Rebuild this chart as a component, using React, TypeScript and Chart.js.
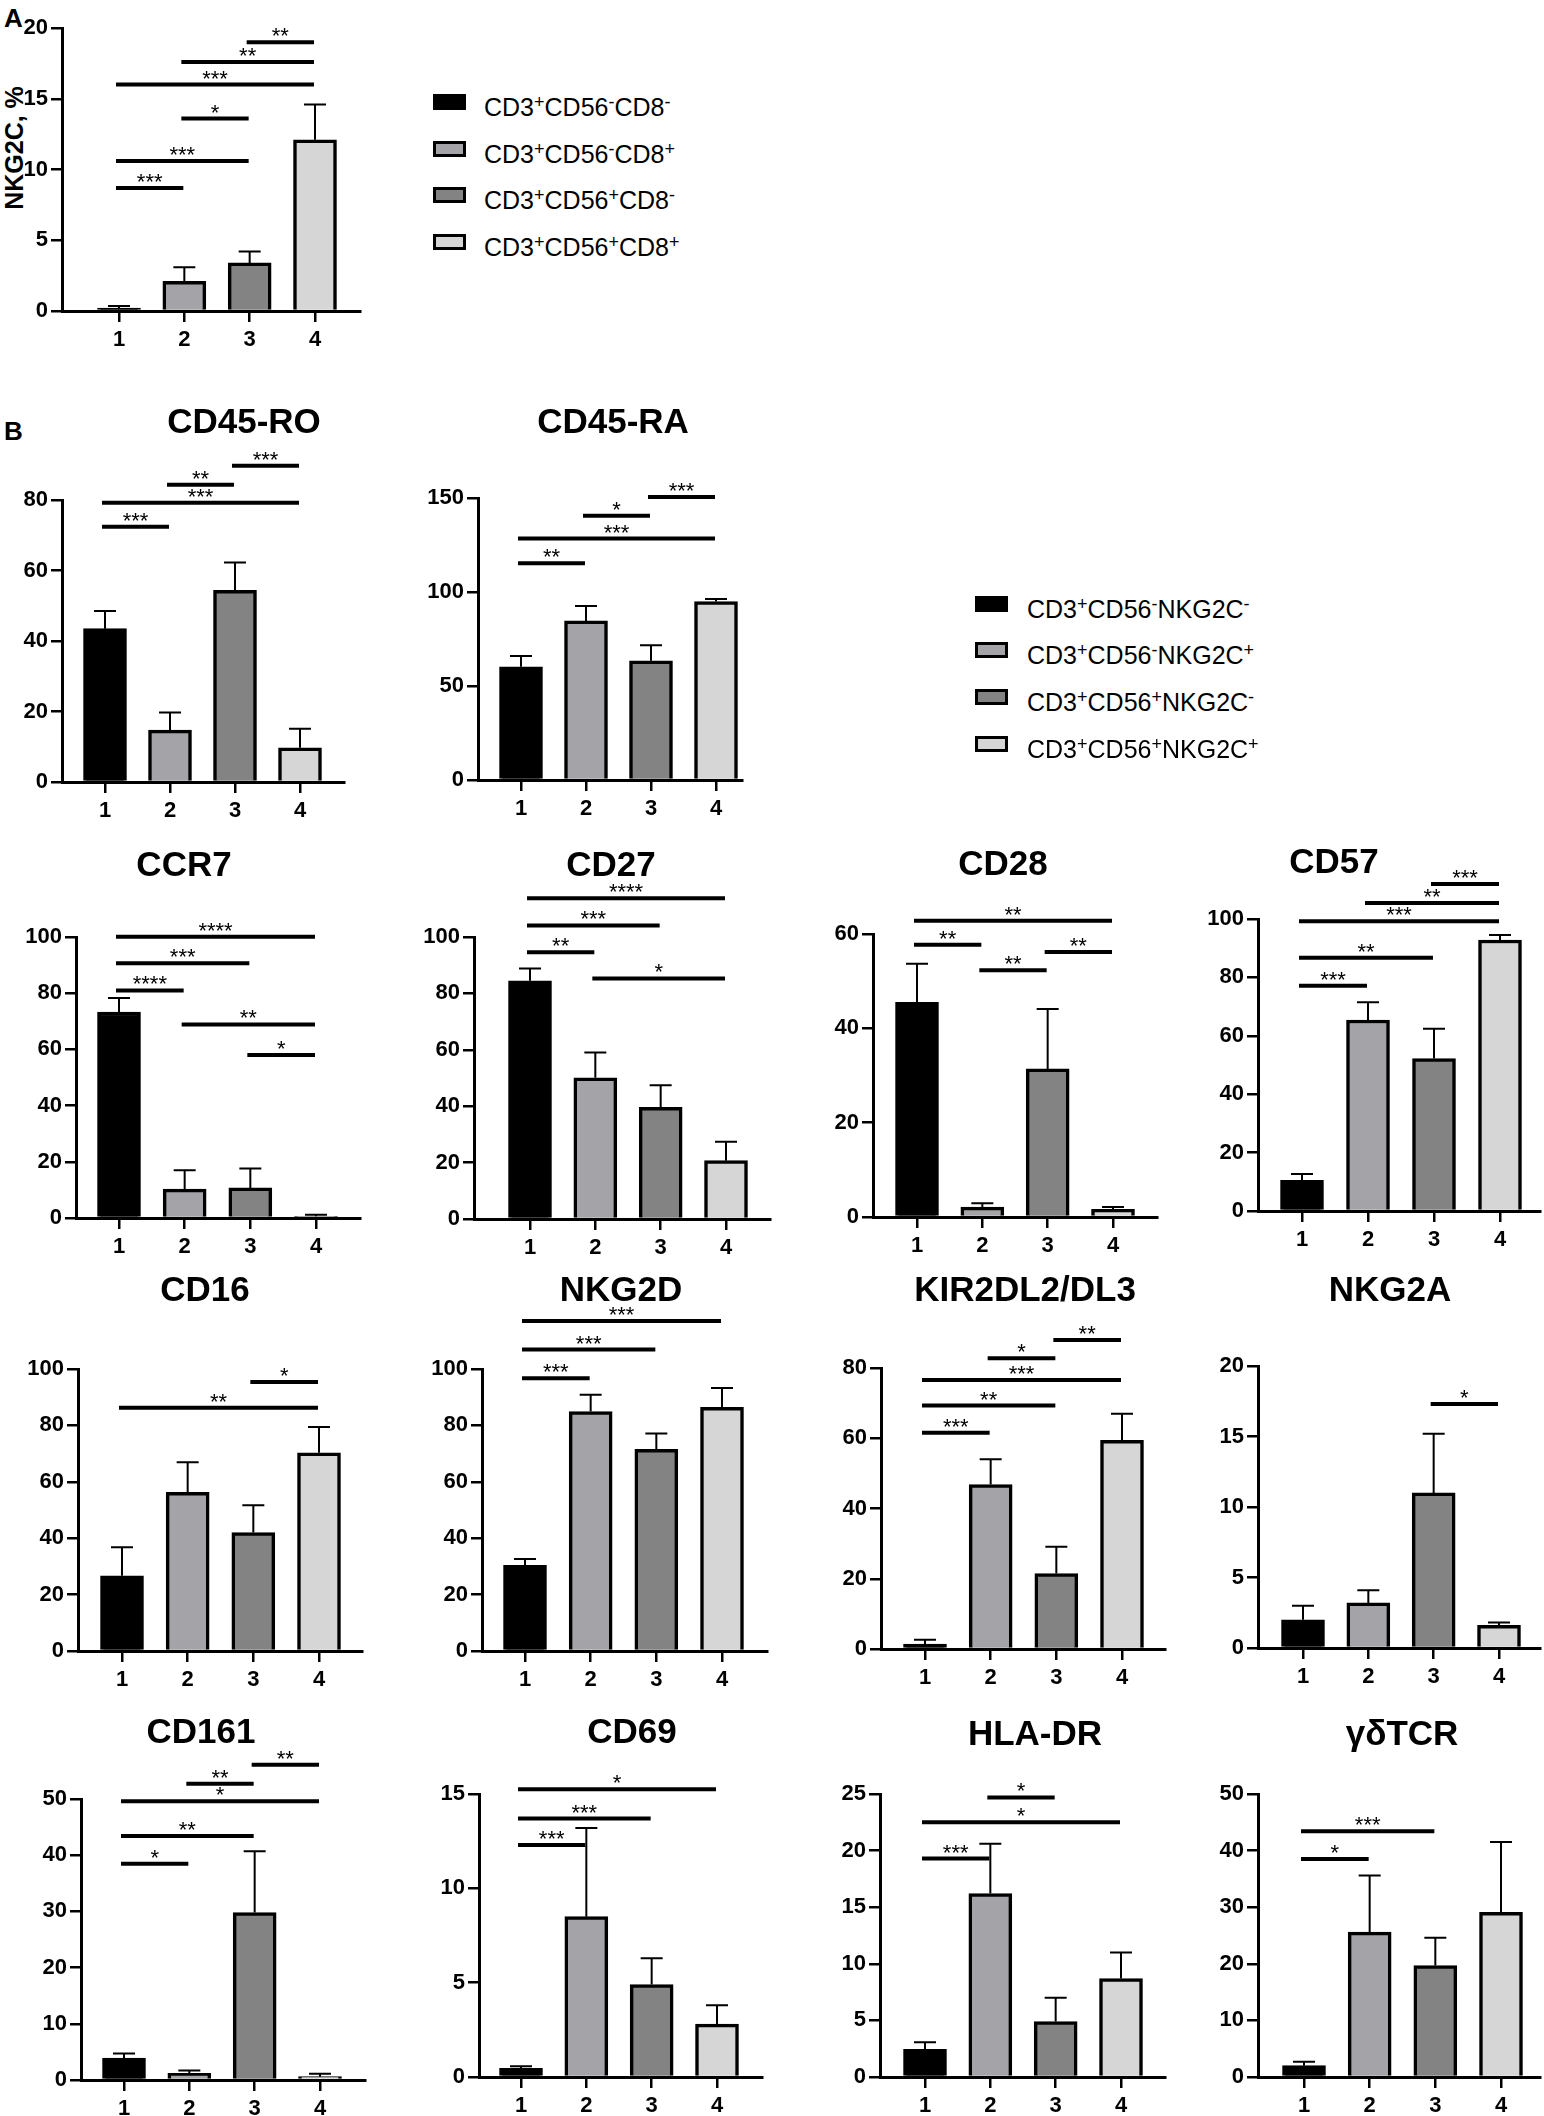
import { useEffect, useRef } from "react";
import { Chart, registerables, type Plugin } from "chart.js";

Chart.register(...registerables);

const FONT = "'Liberation Sans', Arial, Helvetica, sans-serif";
Chart.defaults.font.family = FONT;

type Sig = [number, number, number, string];

// groups 1..4 on the x axis
const groups = ["1", "2", "3", "4"];
const barFills = ["#000000", "#a4a4a8", "#838383", "#d6d6d6"];

// ---- panel A: NKG2C %
const nkg2cMean = [0.2, 2.1, 3.4, 12.1];
const nkg2cSem = [0.15, 1.0, 0.8, 2.5];
const nkg2cSig: Sig[] = [
  [1, 2, 8.7, "***"], [1, 3, 10.6, "***"], [2, 3, 13.6, "*"],
  [1, 4, 16.0, "***"], [2, 4, 17.6, "**"], [3, 4, 19.0, "**"],
];

// ---- panel B
const cd45roMean = [43.5, 14.7, 54.4, 9.7];
const cd45roSem = [5.0, 5.0, 7.9, 5.4];
const cd45roSig: Sig[] = [[1, 2, 72.4, "***"], [1, 4, 79.2, "***"], [2, 3, 84.3, "**"], [3, 4, 89.7, "***"]];

const cd45raMean = [60.2, 84.6, 63.4, 94.9];
const cd45raSem = [5.7, 8.0, 8.3, 1.4];
const cd45raSig: Sig[] = [[1, 2, 115.3, "**"], [1, 4, 128.4, "***"], [2, 3, 140.5, "*"], [3, 4, 150.5, "***"]];

const ccr7Mean = [73.3, 10.3, 10.7, 0.6];
const ccr7Sem = [5.0, 6.7, 6.9, 0.6];
const ccr7Sig: Sig[] = [[1, 2, 81, "****"], [1, 3, 90.7, "***"], [1, 4, 100.1, "****"], [2, 4, 68.9, "**"], [3, 4, 58, "*"]];

const cd27Mean = [84.5, 50.1, 39.6, 20.7];
const cd27Sem = [4.3, 8.9, 7.8, 6.7];
const cd27Sig: Sig[] = [[1, 2, 94.6, "**"], [1, 3, 104.1, "***"], [1, 4, 113.7, "****"], [2, 4, 85.3, "*"]];

const cd28Mean = [45.5, 2.1, 31.4, 1.6];
const cd28Sem = [8.2, 0.8, 12.7, 0.5];
const cd28Sig: Sig[] = [[1, 2, 57.7, "**"], [2, 3, 52.3, "**"], [3, 4, 56.2, "**"], [1, 4, 62.8, "**"]];

const cd57Mean = [10.5, 65.4, 52.2, 92.8];
const cd57Sem = [2.2, 6.1, 10.2, 1.7];
const cd57Sig: Sig[] = [[1, 2, 77.1, "***"], [1, 3, 86.7, "**"], [1, 4, 99.2, "***"], [2, 4, 105.5, "**"], [3, 4, 112, "***"]];

const cd16Mean = [26.7, 56.3, 42.0, 70.3];
const cd16Sem = [10.1, 10.6, 9.7, 9.1];
const cd16Sig: Sig[] = [[1, 4, 86.3, "**"], [3, 4, 95.4, "*"]];

const nkg2dMean = [30.4, 84.9, 71.5, 86.4];
const nkg2dSem = [2.2, 6.0, 5.6, 6.9];
const nkg2dSig: Sig[] = [[1, 2, 96.7, "***"], [1, 3, 106.9, "***"], [1, 4, 117, "***"]];

const kirMean = [1.4, 46.8, 21.5, 59.4];
const kirSem = [1.2, 7.2, 7.6, 7.6];
const kirSig: Sig[] = [[1, 2, 61.6, "***"], [1, 3, 69.3, "**"], [1, 4, 76.6, "***"], [2, 3, 82.8, "*"], [3, 4, 88, "**"]];

const nkg2aMean = [2.0, 3.2, 11.0, 1.6];
const nkg2aSem = [1.0, 0.9, 4.2, 0.2];
const nkg2aSig: Sig[] = [[3, 4, 17.3, "*"]];

const cd161Mean = [3.9, 1.2, 29.8, 0.6];
const cd161Sem = [0.8, 0.5, 10.9, 0.5];
const cd161Sig: Sig[] = [[1, 2, 38.5, "*"], [1, 3, 43.4, "**"], [1, 4, 49.6, "*"], [2, 3, 52.7, "**"], [3, 4, 56.1, "**"]];

const cd69Mean = [0.46, 8.5, 4.9, 2.8];
const cd69Sem = [0.11, 4.7, 1.4, 1.0];
const cd69Sig: Sig[] = [[1, 2, 12.3, "***"], [1, 3, 13.7, "***"], [1, 4, 15.25, "*"]];

const hladrMean = [2.45, 16.2, 4.9, 8.7];
const hladrSem = [0.62, 4.4, 2.1, 2.3];
const hladrSig: Sig[] = [[1, 2, 19.3, "***"], [1, 4, 22.5, "*"], [2, 3, 24.7, "*"]];

const gdtcrMean = [2.0, 25.6, 19.7, 29.1];
const gdtcrSem = [0.7, 10.0, 4.9, 12.4];
const gdtcrSig: Sig[] = [[1, 2, 38.5, "*"], [1, 3, 43.4, "***"]];

// legend labels: [base, sup] pairs
const legendA = [
  [["CD3", "+"], ["CD56", "-"], ["CD8", "-"]],
  [["CD3", "+"], ["CD56", "-"], ["CD8", "+"]],
  [["CD3", "+"], ["CD56", "+"], ["CD8", "-"]],
  [["CD3", "+"], ["CD56", "+"], ["CD8", "+"]],
];
const legendB = [
  [["CD3", "+"], ["CD56", "-"], ["NKG2C", "-"]],
  [["CD3", "+"], ["CD56", "-"], ["NKG2C", "+"]],
  [["CD3", "+"], ["CD56", "+"], ["NKG2C", "-"]],
  [["CD3", "+"], ["CD56", "+"], ["NKG2C", "+"]],
];

// layout: y axis x, first/last bar centre, x-axis end, y of max tick, y of zero
type Box = { axisX: number; c1: number; c4: number; xEnd: number; yTop: number; yZero: number };
type PanelDef = {
  title?: string;
  tx?: number;
  ty?: number;
  mean: number[];
  sem: number[];
  sig: Sig[];
  max: number;
  step: number;
  box: Box;
};

const panels: PanelDef[] = [
  { mean: nkg2cMean, sem: nkg2cSem, sig: nkg2cSig, max: 20, step: 5,
    box: { axisX: 62, c1: 119, c4: 315, xEnd: 360, yTop: 28, yZero: 311 } },
  { title: "CD45-RO", tx: 244, ty: 420, mean: cd45roMean, sem: cd45roSem, sig: cd45roSig, max: 80, step: 20,
    box: { axisX: 62, c1: 105, c4: 300, xEnd: 344, yTop: 500, yZero: 782 } },
  { title: "CD45-RA", tx: 613, ty: 420, mean: cd45raMean, sem: cd45raSem, sig: cd45raSig, max: 150, step: 50,
    box: { axisX: 478, c1: 521, c4: 716, xEnd: 742, yTop: 498, yZero: 780 } },
  { title: "CCR7", tx: 184, ty: 863, mean: ccr7Mean, sem: ccr7Sem, sig: ccr7Sig, max: 100, step: 20,
    box: { axisX: 76, c1: 119, c4: 316, xEnd: 360, yTop: 937, yZero: 1218 } },
  { title: "CD27", tx: 611, ty: 863, mean: cd27Mean, sem: cd27Sem, sig: cd27Sig, max: 100, step: 20,
    box: { axisX: 474, c1: 530, c4: 726, xEnd: 770, yTop: 937, yZero: 1219 } },
  { title: "CD28", tx: 1003, ty: 862, mean: cd28Mean, sem: cd28Sem, sig: cd28Sig, max: 60, step: 20,
    box: { axisX: 873, c1: 917, c4: 1113, xEnd: 1157, yTop: 934, yZero: 1217 } },
  { title: "CD57", tx: 1334, ty: 860, mean: cd57Mean, sem: cd57Sem, sig: cd57Sig, max: 100, step: 20,
    box: { axisX: 1258, c1: 1302, c4: 1500, xEnd: 1540, yTop: 919, yZero: 1211 } },
  { title: "CD16", tx: 205, ty: 1288, mean: cd16Mean, sem: cd16Sem, sig: cd16Sig, max: 100, step: 20,
    box: { axisX: 78, c1: 122, c4: 319, xEnd: 362, yTop: 1369, yZero: 1651 } },
  { title: "NKG2D", tx: 621, ty: 1288, mean: nkg2dMean, sem: nkg2dSem, sig: nkg2dSig, max: 100, step: 20,
    box: { axisX: 482, c1: 525, c4: 722, xEnd: 767, yTop: 1369, yZero: 1651 } },
  { title: "KIR2DL2/DL3", tx: 1025, ty: 1288, mean: kirMean, sem: kirSem, sig: kirSig, max: 80, step: 20,
    box: { axisX: 881, c1: 925, c4: 1122, xEnd: 1165, yTop: 1368, yZero: 1649 } },
  { title: "NKG2A", tx: 1390, ty: 1288, mean: nkg2aMean, sem: nkg2aSem, sig: nkg2aSig, max: 20, step: 5,
    box: { axisX: 1258, c1: 1303, c4: 1499, xEnd: 1540, yTop: 1366, yZero: 1648 } },
  { title: "CD161", tx: 201, ty: 1730, mean: cd161Mean, sem: cd161Sem, sig: cd161Sig, max: 50, step: 10,
    box: { axisX: 81, c1: 124, c4: 320, xEnd: 365, yTop: 1799, yZero: 2080 } },
  { title: "CD69", tx: 632, ty: 1730, mean: cd69Mean, sem: cd69Sem, sig: cd69Sig, max: 15, step: 5,
    box: { axisX: 479, c1: 521, c4: 717, xEnd: 762, yTop: 1794, yZero: 2077 } },
  { title: "HLA-DR", tx: 1035, ty: 1732, mean: hladrMean, sem: hladrSem, sig: hladrSig, max: 25, step: 5,
    box: { axisX: 880, c1: 925, c4: 1121, xEnd: 1165, yTop: 1794, yZero: 2077 } },
  { title: "γδTCR", tx: 1402, ty: 1732, mean: gdtcrMean, sem: gdtcrSem, sig: gdtcrSig, max: 50, step: 10,
    box: { axisX: 1258, c1: 1304, c4: 1501, xEnd: 1540, yTop: 1794, yZero: 2077 } },
];

const LEFT_ROOM = 75;
const TOP_ROOM = 140;
const X_ROOM = 50;
const RIGHT_ROOM = 12;

function makeMarks(p: PanelDef): Plugin<"bar"> {
  return {
    id: "marks",
    afterDatasetsDraw(chart) {
      const { ctx } = chart;
      const x = chart.scales.x;
      const y = chart.scales.y;
      const meta = chart.getDatasetMeta(0);
      ctx.save();
      // error bars (upper only)
      ctx.strokeStyle = "#000";
      ctx.lineWidth = 2;
      meta.data.forEach((bar, i) => {
        const cx = bar.x;
        const y0 = y.getPixelForValue(p.mean[i]);
        const y1 = y.getPixelForValue(p.mean[i] + p.sem[i]);
        ctx.beginPath();
        ctx.moveTo(cx, y0);
        ctx.lineTo(cx, y1);
        ctx.moveTo(cx - 11, y1);
        ctx.lineTo(cx + 11, y1);
        ctx.stroke();
      });
      // significance lines
      ctx.lineWidth = 4;
      ctx.fillStyle = "#000";
      ctx.font = `22px ${FONT}`;
      ctx.textAlign = "center";
      ctx.textBaseline = "alphabetic";
      p.sig.forEach(([a, b, level, stars]) => {
        const x1 = x.getPixelForValue(a) - 3;
        const x2 = x.getPixelForValue(b) - 1;
        const ly = y.getPixelForValue(level);
        ctx.beginPath();
        ctx.moveTo(x1, ly);
        ctx.lineTo(x2, ly);
        ctx.stroke();
        ctx.fillText(stars, (x1 + x2) / 2, ly + 1);
      });
      ctx.restore();
    },
  };
}

function BarPanel({ p }: { p: PanelDef }) {
  const ref = useRef<HTMLCanvasElement>(null);
  const b = p.box;
  const left = b.axisX - LEFT_ROOM;
  const top = b.yTop - TOP_ROOM;
  const width = b.xEnd - left + RIGHT_ROOM;
  const height = b.yZero - top + X_ROOM;
  const sp = (b.c4 - b.c1) / 3;
  const xMin = 1 - (b.c1 - b.axisX) / sp;
  const xMax = 4 + (b.xEnd - b.c4) / sp;

  useEffect(() => {
    if (!ref.current) return;
    const tickFont = { size: 22, weight: "bold" as const, family: FONT };
    const chart = new Chart(ref.current, {
      type: "bar",
      data: {
        datasets: [
          {
            data: p.mean.map((m, i) => ({ x: i + 1, y: m })),
            backgroundColor: barFills,
            borderColor: "#000",
            borderWidth: 3.5,
            barThickness: 43,
          },
        ],
      },
      options: {
        animation: false,
        responsive: false,
        devicePixelRatio: 1,
        layout: { padding: { top: TOP_ROOM, right: RIGHT_ROOM, left: 0, bottom: 0 } },
        plugins: { legend: { display: false }, tooltip: { enabled: false } },
        scales: {
          x: {
            type: "linear",
            offset: false,
            min: xMin,
            max: xMax,
            afterBuildTicks: (s) => {
              s.ticks = groups.map((_, i) => ({ value: i + 1 }));
            },
            afterFit: (s) => {
              s.height = X_ROOM;
            },
            ticks: {
              callback: (v) => groups[Math.round(Number(v)) - 1] ?? "",
              font: tickFont,
              color: "#000",
              padding: 5,
              maxRotation: 0,
              autoSkip: false,
            },
            grid: { drawOnChartArea: false, offset: false, tickLength: 11, color: "#000", lineWidth: 2.5 },
            border: { color: "#000", width: 3 },
          },
          y: {
            min: 0,
            max: p.max,
            afterFit: (s) => {
              s.width = LEFT_ROOM;
            },
            ticks: { stepSize: p.step, font: tickFont, color: "#000", padding: 3 },
            grid: { drawOnChartArea: false, tickLength: 11, color: "#000", lineWidth: 2.5 },
            border: { color: "#000", width: 3 },
          },
        },
      },
      plugins: [makeMarks(p)],
    });
    return () => chart.destroy();
  }, [p]);

  return (
    <>
      <canvas
        ref={ref}
        width={width}
        height={height}
        style={{ position: "absolute", left, top, width, height }}
      />
      {p.title && (
        <div
          style={{
            position: "absolute",
            left: p.tx,
            top: p.ty,
            transform: "translate(-50%, -50%)",
            font: `bold 35px ${FONT}`,
            lineHeight: 1,
            whiteSpace: "nowrap",
            color: "#000",
          }}
        >
          {p.title}
        </div>
      )}
    </>
  );
}

function Legend({
  items,
  boxLeft,
  textLeft,
  rows,
}: {
  items: string[][][];
  boxLeft: number;
  textLeft: number;
  rows: number[];
}) {
  return (
    <>
      {items.map((parts, i) => (
        <div key={i}>
          <div
            style={{
              position: "absolute",
              left: boxLeft,
              top: rows[i] - 8,
              width: 33,
              height: 16,
              boxSizing: "border-box",
              border: "3.5px solid #000",
              background: barFills[i],
            }}
          />
          <div
            style={{
              position: "absolute",
              left: textLeft,
              top: rows[i] - 15,
              fontSize: 25,
              lineHeight: "30px",
              whiteSpace: "nowrap",
              color: "#000",
            }}
          >
            {parts.map(([base, sup], k) => (
              <span key={k}>
                {base}
                <span style={{ fontSize: 18, verticalAlign: 8 }}>{sup}</span>
              </span>
            ))}
          </div>
        </div>
      ))}
    </>
  );
}

export default function App() {
  return (
    <div
      style={{
        position: "absolute",
        left: 0,
        top: 0,
        width: 1544,
        height: 2116,
        background: "#fff",
        fontFamily: FONT,
        overflow: "hidden",
      }}
    >
      <div style={{ position: "absolute", left: 4, top: 3, font: `bold 26px ${FONT}` }}>A</div>
      <div style={{ position: "absolute", left: 4, top: 416, font: `bold 26px ${FONT}` }}>B</div>
      <div
        style={{
          position: "absolute",
          left: 14,
          top: 148,
          transform: "translate(-50%, -50%) rotate(-90deg)",
          font: `bold 25px ${FONT}`,
          whiteSpace: "nowrap",
        }}
      >
        NKG2C, %
      </div>
      {panels.map((p, i) => (
        <BarPanel key={i} p={p} />
      ))}
      <Legend items={legendA} boxLeft={433} textLeft={484} rows={[102, 149, 195, 242]} />
      <Legend items={legendB} boxLeft={975} textLeft={1027} rows={[604, 650, 697, 744]} />
    </div>
  );
}
